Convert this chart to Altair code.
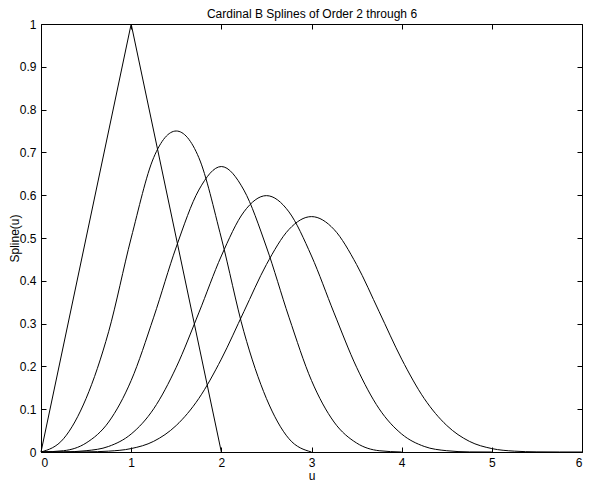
import pandas as pd
import altair as alt

FONT = "Liberation Sans"

# spline values, per order
u2 = [0, 1, 2]
b2 = [0, 1, 0]

u3 = [0, 0.25, 0.5, 0.75, 1, 1.25, 1.5, 1.75, 2, 2.25, 2.5, 2.75, 3]
b3 = [0, 0.031, 0.125, 0.281, 0.5, 0.688, 0.75, 0.688, 0.5, 0.281, 0.125, 0.031, 0]

u4 = [0, 0.25, 0.5, 0.75, 1, 1.25, 1.5, 1.75, 2, 2.25, 2.5, 2.75, 3, 3.25, 3.5, 3.75, 4]
b4 = [0, 0.003, 0.021, 0.070, 0.167, 0.315, 0.479, 0.612, 0.667,
      0.612, 0.479, 0.315, 0.167, 0.070, 0.021, 0.003, 0]

u5 = [0, 0.25, 0.5, 0.75, 1, 1.25, 1.5, 1.75, 2, 2.25, 2.5,
      2.75, 3, 3.25, 3.5, 3.75, 4, 4.25, 4.5, 4.75, 5]
b5 = [0, 0.0002, 0.003, 0.013, 0.042, 0.101, 0.198, 0.325, 0.458, 0.561, 0.599,
      0.561, 0.458, 0.325, 0.198, 0.101, 0.042, 0.013, 0.003, 0.0002, 0]

u6 = [0, 0.25, 0.5, 0.75, 1, 1.25, 1.5, 1.75, 2, 2.25, 2.5, 2.75, 3,
      3.25, 3.5, 3.75, 4, 4.25, 4.5, 4.75, 5, 5.25, 5.5, 5.75, 6]
b6 = [0, 0.00001, 0.0003, 0.002, 0.008, 0.025, 0.062, 0.125, 0.217, 0.328, 0.438, 0.520, 0.55,
      0.520, 0.438, 0.328, 0.217, 0.125, 0.062, 0.025, 0.008, 0.002, 0.0003, 0.00001, 0]

x_ticks = [0, 1, 2, 3, 4, 5, 6]
y_ticks = [0, 0.1, 0.2, 0.3, 0.4, 0.5, 0.6, 0.7, 0.8, 0.9, 1]

rows = []
for order, us, bs in [(2, u2, b2), (3, u3, b3), (4, u4, b4), (5, u5, b5), (6, u6, b6)]:
    for u, b in zip(us, bs):
        rows.append({"order": order, "u": u, "spline": b})
df = pd.DataFrame(rows)

x_scale = alt.Scale(domain=[0, 6], nice=False, zero=False)
y_scale = alt.Scale(domain=[0, 1], nice=False)

tick_style = dict(tickSize=5, offset=-5, domain=False, grid=False,
                  tickColor="black", labelColor="black", labelFont=FONT,
                  labelFontSize=12, titleFont=FONT, titleFontSize=12,
                  titleFontWeight="normal", titleColor="black")

# bottom/left axes carry labels, ticks point into the plot
hat = (
    alt.Chart(df)
    .transform_filter("datum.order == 2")
    .mark_line(color="black", strokeWidth=1)
    .encode(
        x=alt.X("u:Q", scale=x_scale,
                axis=alt.Axis(orient="bottom", values=x_ticks, format="d", labelPadding=5,
                              title="u", titleY=32, titleBaseline="alphabetic", **tick_style)),
        y=alt.Y("spline:Q", scale=y_scale,
                axis=alt.Axis(orient="left", values=y_ticks, format="~g", labelPadding=5,
                              title="Spline(u)", titleX=-32, titleBaseline="middle", **tick_style)),
    )
)

# top/right axes: ticks only; the chart title rides on the top axis
curves = (
    alt.Chart(df)
    .transform_filter("datum.order > 2")
    .mark_line(color="black", strokeWidth=1, interpolate="monotone")
    .encode(
        x=alt.X("u:Q", scale=x_scale,
                axis=alt.Axis(orient="top", values=x_ticks, labels=False,
                              title="Cardinal B Splines of Order 2 through 6",
                              titleY=-12, titleBaseline="alphabetic", **tick_style)),
        y=alt.Y("spline:Q", scale=y_scale,
                axis=alt.Axis(orient="right", values=y_ticks, labels=False, title=None, **tick_style)),
        detail="order:N",
    )
)

chart = (
    alt.layer(hat, curves)
    .resolve_axis(x="independent", y="independent")
    .properties(
        width=541,
        height=428,
        autosize="none",
        padding={"left": 33, "top": 16, "right": 2, "bottom": 29},
    )
    .configure_view(stroke="black", strokeWidth=1)
)

chart.save("out.html", embed_options={"renderer": "svg", "actions": False})
